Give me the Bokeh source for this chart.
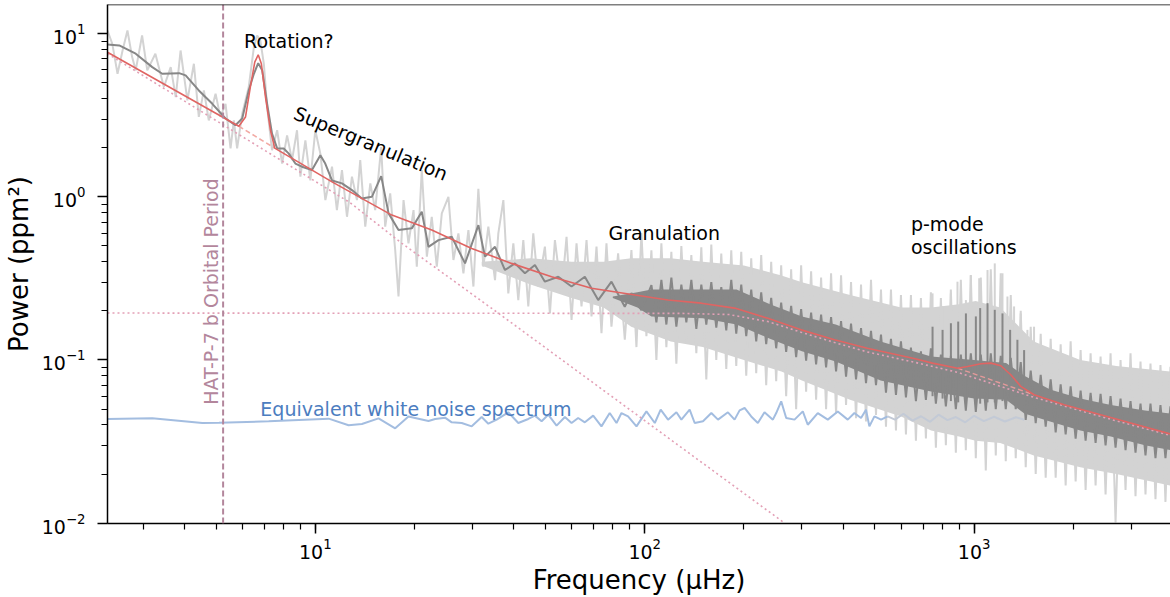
import math
from bokeh.plotting import figure
from bokeh.models import Range1d, Span
from bokeh.core.properties import value
from bokeh.embed import file_html
from bokeh.resources import INLINE

# ---------------- data ----------------
# raw (light grey) spectrum, low-frequency part
raw_f = [2.34, 2.42, 2.51, 2.60, 2.69, 2.78, 2.85, 2.98, 3.09, 3.27, 3.47, 3.64, 3.77, 3.90, 4.09, 4.28,
         4.43, 4.59, 4.75, 4.98, 5.15, 5.34, 5.53, 5.66, 5.79, 6.00, 6.28, 6.51, 6.66, 6.81, 6.98, 7.14,
         7.39, 7.66, 7.93, 8.21, 8.50, 8.80, 9.01, 9.33, 9.66, 10.0, 10.36, 10.73, 11.24, 11.63, 12.05,
         12.48, 12.92, 13.38, 13.69, 14.18, 14.69, 15.20, 15.85, 16.30, 16.88, 17.48, 17.89, 18.53, 19.18,
         19.87, 20.33, 21.05, 21.81, 22.57, 23.38, 24.21, 25.36, 26.26, 27.19, 28.16, 29.16, 30.20, 31.26,
         32.37, 33.52, 35.12, 35.94, 37.23, 38.54, 39.92, 41.33, 42.80, 44.32, 45.89, 47.52, 49.77, 51.55,
         53.38, 55.91, 57.90, 59.96, 62.09, 64.29, 66.58, 68.94, 71.39, 73.92, 76.54, 79.25, 83.03, 87.00,
         91.13]
raw_p = [10.46, 8.67, 5.68, 7.89, 10.46, 7.19, 5.96, 9.75, 5.96, 7.53, 4.71, 6.24, 4.09, 7.89, 3.90, 6.54,
         3.09, 4.49, 2.94, 4.29, 3.09, 3.72, 1.98, 2.94, 1.98, 3.23, 4.71, 8.27, 9.75, 9.09, 6.54, 3.55,
         1.93, 2.56, 1.60, 2.38, 1.68, 2.56, 1.33, 2.22, 1.26, 2.56, 1.84, 0.955, 1.53, 0.829, 1.46,
         0.755, 1.33, 0.955, 1.68, 0.656, 1.21, 0.829, 2.02, 0.656, 1.05, 0.472, 0.245, 0.955, 0.519,
         0.829, 0.373, 1.46, 0.430, 0.755, 0.373, 0.791, 1.0, 0.410, 0.597, 0.340, 0.626, 0.282, 1.12,
         0.373, 0.656, 0.309, 0.597, 0.955, 0.256, 0.519, 0.233, 0.543, 0.213, 0.597, 0.282, 0.495, 0.193,
         0.543, 0.256, 0.569, 0.176, 0.519, 0.213, 0.543, 0.185, 0.495, 0.146, 0.519, 0.160, 0.450, 0.133,
         0.472]

# high-frequency sampling grid (about one value every 5 px)
hf_f = [94.37, 97.72, 101.19, 104.78, 108.50, 112.35, 116.34, 120.47, 124.75, 129.18, 133.77, 138.52,
        143.44, 148.53, 153.80, 159.26, 164.91, 170.77, 176.83, 183.11, 189.61, 196.34, 203.31, 210.53,
        218.0, 225.74, 233.75, 242.05, 250.64, 259.54, 268.75, 278.29, 288.17, 298.40, 308.99, 319.96,
        331.32, 343.08, 355.26, 367.87, 380.93, 394.45, 408.45, 422.95, 437.97, 453.52, 469.62, 486.29,
        503.55, 521.43, 539.94, 559.11, 578.96, 599.51, 620.79, 642.83, 665.65, 689.28, 713.75, 739.08,
        765.32, 792.49, 820.62, 849.75, 879.92, 911.16, 943.51, 977.0, 1011.7, 1047.6, 1084.8, 1123.3,
        1163.2, 1204.5, 1247.3, 1291.6, 1337.4, 1384.9, 1434.1, 1485.0, 1537.7, 1592.3, 1648.8, 1707.3,
        1767.9, 1830.7, 1895.7, 1963.0, 2032.7, 2104.8, 2179.5, 2256.9, 2337.0, 2420.0, 2505.9, 2594.9,
        2687.0, 2782.4, 2881.2, 2983.4, 3089.3, 3199.0, 3312.6, 3430.2, 3552.0, 3678.0, 3808.6, 3943.8]
# raw spectrum on that grid (alternate upper / lower excursions)
raw_hf_p = [0.12, 0.60, 0.14, 0.47, 0.10, 0.52, 0.12, 0.46, 0.095, 0.50, 0.13, 0.44,
            0.11, 0.49, 0.076, 0.51, 0.10, 0.45, 0.088, 0.47, 0.092, 0.46, 0.08, 0.42,
            0.083, 0.44, 0.07, 0.40, 0.074, 0.38, 0.06, 0.36, 0.05, 0.38, 0.064, 0.35,
            0.057, 0.32, 0.05, 0.34, 0.047, 0.33, 0.053, 0.30, 0.044, 0.29, 0.042, 0.31,
            0.046, 0.27, 0.039, 0.27, 0.037, 0.25, 0.035, 0.25, 0.032, 0.24, 0.033, 0.26,
            0.029, 0.24, 0.03, 0.27, 0.027, 0.31, 0.028, 0.33, 0.025, 0.32, 0.021, 0.36,
            0.026, 0.34, 0.024, 0.25, 0.025, 0.20, 0.022, 0.16, 0.02, 0.145, 0.019, 0.135,
            0.019, 0.125, 0.017, 0.13, 0.018, 0.115, 0.016, 0.11, 0.017, 0.105, 0.015, 0.11,
            0.0101, 0.10, 0.016, 0.11, 0.0146, 0.098, 0.015, 0.095, 0.014, 0.093, 0.0135, 0.091]
# smoothed spectrum on that grid (from 108.5 uHz on)
smooth_hf_p = [0.17, 0.31, 0.165, 0.32, 0.16, 0.29, 0.17, 0.31,
               0.155, 0.29, 0.165, 0.30, 0.158, 0.28, 0.152, 0.31, 0.145, 0.29, 0.14, 0.27,
               0.13, 0.26, 0.125, 0.24, 0.118, 0.225, 0.112, 0.215, 0.104, 0.205, 0.099, 0.195,
               0.094, 0.19, 0.09, 0.183, 0.085, 0.173, 0.079, 0.167, 0.076, 0.157, 0.072, 0.151,
               0.07, 0.143, 0.063, 0.135, 0.061, 0.13, 0.059, 0.119, 0.056, 0.113, 0.057, 0.118,
               0.054, 0.108, 0.052, 0.106, 0.05, 0.108, 0.049, 0.11, 0.048, 0.108, 0.049, 0.11,
               0.05, 0.106, 0.05, 0.103, 0.05, 0.097, 0.043, 0.086, 0.041, 0.081, 0.039, 0.076,
               0.036, 0.071, 0.035, 0.069, 0.033, 0.065, 0.032, 0.063, 0.031, 0.062, 0.03, 0.06,
               0.029, 0.058, 0.028, 0.056, 0.027, 0.054, 0.026, 0.054, 0.025, 0.053, 0.025, 0.052]

# raw spectrum, solid core of the dense region
band_f = [32, 45, 60, 75, 91, 120, 150, 200, 260, 300, 420, 600, 740, 900, 1010, 1200, 1517, 2100, 2700,
          3945]
band_hi = [0.40, 0.42, 0.40, 0.40, 0.42, 0.42, 0.40, 0.38, 0.33, 0.30, 0.25, 0.21, 0.21, 0.22, 0.23, 0.21,
           0.13, 0.10, 0.092, 0.085]
band_lo = [0.38, 0.29, 0.24, 0.21, 0.16, 0.13, 0.12, 0.10, 0.085, 0.075, 0.057, 0.045, 0.037, 0.034, 0.032,
           0.031, 0.026, 0.022, 0.020, 0.017]

# raw spectrum, p-mode spikes
spk_f = [747.7, 802, 850, 890, 944, 977, 1036, 1098, 1155, 1219, 1262, 1322, 1385, 1451, 1520]
spk_lo = [0.1, 0.1, 0.1, 0.1, 0.1, 0.1, 0.1, 0.1, 0.1, 0.1, 0.1, 0.1, 0.1, 0.08, 0.08]
spk_hi = [0.256, 0.213, 0.256, 0.302, 0.233, 0.332, 0.317, 0.356, 0.391, 0.340, 0.245, 0.213, 0.193,
          0.153, 0.160]

# smoothed spectrum (dark grey), low-frequency part
smooth_f = [2.34, 2.54, 2.85, 3.20, 3.43, 3.86, 4.04, 4.43, 4.86, 5.34, 5.72, 6.00, 6.28, 6.51, 6.71, 6.90,
            7.14, 7.39, 7.66, 8.02, 8.31, 8.70, 9.11, 9.77, 10.36, 10.72, 11.24, 12.05, 12.92, 13.85, 14.85,
            15.85, 16.69, 17.89, 19.63, 21.05, 22.06, 23.65, 25.95, 28.48, 31.27, 32.74, 35.12, 37.65,
            40.37, 43.29, 46.42, 49.77, 54.65, 59.97, 65.8, 72.24, 79.27, 86.98, 91.13, 97.7, 104.8]
smooth_p = [8.59, 8.47, 7.54, 6.24, 5.68, 5.73, 5.55, 4.49, 3.73, 3.02, 2.75, 3.02, 4.49, 5.68, 6.60, 5.96,
            3.73, 2.44, 1.98, 1.98, 1.84, 1.60, 1.53, 1.46, 1.80, 1.60, 1.26, 1.21, 1.10, 0.978, 1.0,
            1.34, 0.792, 0.626, 0.641, 0.810, 0.494, 0.543, 0.569, 0.391, 0.671, 0.430, 0.494, 0.356,
            0.391, 0.340, 0.382, 0.302, 0.324, 0.282, 0.324, 0.233, 0.302, 0.212, 0.257, 0.202, 0.288]

# smoothed spectrum, solid core
sband_f = [80, 95, 104.8, 150, 190, 240, 300, 380, 520, 740, 1000, 1250, 1420, 1700, 2100, 2600, 3300, 3945]
sband_hi = [0.245, 0.26, 0.27, 0.27, 0.27, 0.22, 0.185, 0.165, 0.13, 0.105, 0.10, 0.096, 0.08, 0.066,
            0.058, 0.053, 0.049, 0.047]
sband_lo = [0.24, 0.21, 0.185, 0.18, 0.165, 0.135, 0.113, 0.098, 0.075, 0.064, 0.058, 0.057, 0.047,
            0.042, 0.037, 0.034, 0.030, 0.028]

# p-mode comb in the smoothed spectrum
pm_f = [747.7, 802, 850, 894.6, 944, 1012, 1043, 1098, 1155, 1219, 1286, 1353, 1418]
pm_hi = [0.160, 0.153, 0.168, 0.172, 0.193, 0.185, 0.208, 0.223, 0.203, 0.193, 0.153, 0.133, 0.115]
pm_lo = [0.06, 0.058, 0.056, 0.055, 0.054, 0.053, 0.054, 0.055, 0.055, 0.056, 0.058, 0.06, 0.06]

# equivalent white-noise spectrum
wn_f = [2.34, 3.20, 4.54, 5.10, 7.22, 10.98, 12.62, 13.85, 15.56, 17.48, 19.18, 22.06, 23.11, 24.77, 25.95,
        27.83, 29.84, 31.99, 33.52, 35.53, 38.54, 41.33, 44.32, 46.42, 48.64, 50.94, 54.0, 57.24, 59.96,
        62.8, 65.8, 69.76, 73.9, 78.3, 82.1, 85.0, 89.0, 94.4, 101.2, 107.3, 111.8, 117.7, 124.8, 129.2,
        136.9, 141.8, 150.3, 159.3, 166.9, 178.9, 187.4, 194.1, 201.0, 210.5, 220.5, 231.0, 244.9, 250.7,
        259.6, 268.8, 284.9, 301.9, 312.6, 335.2, 359.5, 385.5, 413.3, 433.0, 453.6, 469.6, 480.8, 498.0,
        521.7, 546.4]
wn_p = [0.0435, 0.0439, 0.0411, 0.0413, 0.0421, 0.0437, 0.0398, 0.0405, 0.0439, 0.0381, 0.0451, 0.0423,
        0.0435, 0.0443, 0.0415, 0.0411, 0.0392, 0.0447, 0.0407, 0.0431, 0.0478, 0.0411, 0.0435, 0.0456,
        0.0421, 0.0462, 0.0396, 0.0447, 0.0411, 0.0441, 0.0415, 0.0456, 0.0392, 0.0473, 0.0411, 0.0473,
        0.0451, 0.0392, 0.0484, 0.0411, 0.0496, 0.0431, 0.0478, 0.0431, 0.0496, 0.0411, 0.0421, 0.0473,
        0.0431, 0.0478, 0.0431, 0.0491, 0.0508, 0.0451, 0.0411, 0.0478, 0.0431, 0.0473, 0.0558, 0.0441,
        0.0431, 0.0484, 0.0401, 0.0473, 0.0431, 0.0484, 0.0431, 0.0473, 0.0441, 0.0496, 0.0392, 0.0451,
        0.0431, 0.0451]
wn2_f = [546.4, 575, 610, 650, 690, 735, 780, 830, 880, 940, 1000, 1070, 1150, 1240, 1340, 1420]
wn2_p = [0.0451, 0.0431, 0.0468, 0.0425, 0.0452, 0.0418, 0.0462, 0.0428, 0.0447, 0.0415, 0.0455, 0.0422,
         0.0449, 0.0420, 0.0446, 0.0430]

# full background model (red)
model_f = [2.34, 5.86, 6.14, 6.35, 6.55, 6.71, 6.86, 7.06, 7.31, 7.53, 11.24, 17.08, 22.57, 29.84, 39.4,
           52.17, 68.94, 93.5, 117.7, 148.5, 187.4, 236.5, 298.4, 376.6, 474, 521.7, 657, 747, 891, 955,
           1048, 1124, 1205, 1292, 1385, 1520, 1875, 2629, 3945]
model_p = [7.7, 2.71, 3.09, 4.71, 6.69, 7.43, 6.54, 4.09, 2.56, 1.99, 1.236, 0.773, 0.626, 0.483, 0.391,
           0.324, 0.275, 0.250, 0.233, 0.223, 0.208, 0.180, 0.153, 0.133, 0.118, 0.113, 0.102, 0.0957,
           0.0891, 0.0913, 0.0948, 0.0957, 0.0922, 0.0812, 0.0689, 0.0612, 0.0532, 0.0441, 0.0352]

# model components
supergran_f = [2.34, 4.98, 12.77, 18.31, 35.96, 131.9, 262.5]
supergran_p = [7.54, 2.95, 0.919, 0.519, 0.1935, 0.0282, 0.0102]
gran_f = [2.34, 130, 180, 236.5, 298.4, 376.6, 474, 657, 891, 1520, 2629, 3945]
gran_p = [0.194, 0.193, 0.19, 0.172, 0.148, 0.128, 0.112, 0.097, 0.084, 0.059, 0.043, 0.0345]
norot_f = [5.86, 7.53]
norot_p = [2.71, 1.99]
nopmode_f = [891, 1520]
nopmode_p = [0.0891, 0.0612]

orbital_freq = 5.25

# ---------------- figure ----------------
FONT = "DejaVu Sans"
p = figure(width=1170, height=597, x_axis_type="log", y_axis_type="log",
           x_range=Range1d(2.34, 3945), y_range=Range1d(0.00995, 15.1),
           output_backend="svg", toolbar_location=None,
           min_border_left=105, min_border_right=0, min_border_top=4, min_border_bottom=73)
p.outline_line_color = None
p.xgrid.visible = False
p.ygrid.visible = False
p.background_fill_color = "white"

LIGHT = "#d3d3d3"
DARK = "#878787"
PINK = "#e3a0b6"

p.varea(x=band_f, y1=band_lo, y2=band_hi, fill_color=LIGHT)
p.line(raw_f + hf_f, raw_p + raw_hf_p, line_color=LIGHT, line_width=2)
p.segment(x0=spk_f, y0=spk_lo, x1=spk_f, y1=spk_hi, line_color=LIGHT, line_width=2)

p.line(wn_f, wn_p, line_color="#a3bde0", line_width=2)
p.line(wn2_f, wn2_p, line_color="#c3cad6", line_width=2)

p.varea(x=sband_f, y1=sband_lo, y2=sband_hi, fill_color=DARK)
p.line(smooth_f + hf_f[4:], smooth_p + smooth_hf_p, line_color=DARK, line_width=2)
p.segment(x0=pm_f, y0=pm_lo, x1=pm_f, y1=pm_hi, line_color=DARK, line_width=2)

p.line(supergran_f, supergran_p, line_color=PINK, line_width=1.6, line_dash="2 3")
p.line(gran_f, gran_p, line_color=PINK, line_width=1.6, line_dash="2 3")
p.line(norot_f, norot_p, line_color="#f2aaa4", line_width=1.6, line_dash="5 3")
p.line(nopmode_f, nopmode_p, line_color="#e59a9a", line_width=1.4, line_dash="5 3")

p.line(model_f, model_p, line_color="#e06462", line_width=1.6)

p.add_layout(Span(location=orbital_freq, dimension="height", line_color="#b3869c",
                  line_width=2, line_dash="6 3"))
p.add_layout(Span(location=15.1, dimension="width", line_color="black", line_width=1.5))

# annotations
p.text(x=[orbital_freq], y=[0.0532], text=["HAT-P-7 b Orbital Period"], angle=math.pi / 2,
       x_offset=-12, text_align="left", text_baseline="alphabetic", text_color="#b3869c",
       text_font=value(FONT), text_font_size=value("19px"))
p.text(x=[6.08], y=[8.96], text=["Rotation?"], text_align="left", text_baseline="alphabetic",
       text_color="black", text_font=value(FONT), text_font_size=value("19px"))
p.text(x=[14.75], y=[2.13], text=["Supergranulation"], angle=-0.391, text_align="center",
       text_baseline="middle", text_color="black", text_font=value(FONT), text_font_size=value("19px"))
p.text(x=[77.6], y=[0.597], text=["Granulation"], text_align="left", text_baseline="alphabetic",
       text_color="black", text_font=value(FONT), text_font_size=value("19px"))
p.text(x=[642.6, 642.6], y=[0.681, 0.494], text=["p-mode", "oscillations"], text_align="left",
       text_baseline="alphabetic", text_color="black", text_font=value(FONT),
       text_font_size=value("19px"))
p.text(x=[6.81], y=[0.0501], text=["Equivalent white noise spectrum"], text_align="left",
       text_baseline="alphabetic", text_color="#4c7dc0", text_font=value(FONT),
       text_font_size=value("19px"))

# axes
for ax in (p.xaxis[0], p.yaxis[0]):
    ax.axis_line_width = 1.5
    ax.axis_line_color = "black"
    ax.major_tick_line_width = 1.5
    ax.major_tick_line_color = "black"
    ax.minor_tick_line_width = 1.2
    ax.minor_tick_line_color = "black"
    ax.major_tick_in = 0
    ax.major_tick_out = 10
    ax.minor_tick_in = 0
    ax.minor_tick_out = 6
    ax.major_label_text_font = FONT
    ax.major_label_text_font_size = "19px"
    ax.major_label_text_color = "black"
    ax.axis_label_text_font = FONT
    ax.axis_label_text_font_size = "26px"
    ax.axis_label_text_font_style = "normal"
    ax.axis_label_text_color = "black"

p.xaxis.axis_label = "Frequency (μHz)"
p.yaxis.axis_label = "Power (ppm²)"
p.xaxis.major_label_standoff = 4
p.xaxis.axis_label_standoff = 3
p.yaxis.major_label_standoff = 12
p.yaxis.axis_label_standoff = 5

open("out.html", "w").write(file_html(p, INLINE))
